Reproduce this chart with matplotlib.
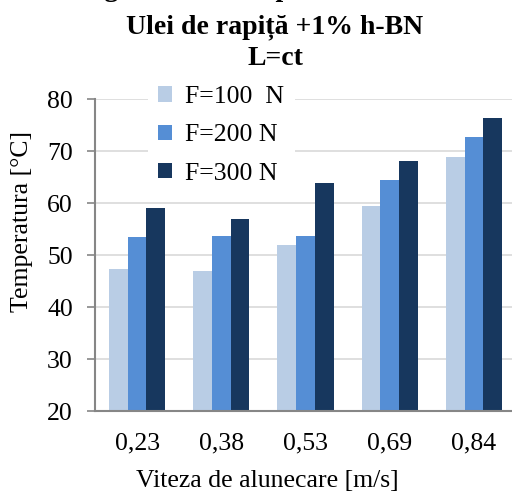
import matplotlib
matplotlib.use("Agg")
import matplotlib.pyplot as plt
import numpy as np

speeds = ["0,23", "0,38", "0,53", "0,69", "0,84"]
series_names = ["F=100  N", "F=200 N", "F=300 N"]
f100 = [47.4, 47.0, 51.9, 59.5, 68.8]
f200 = [53.4, 53.6, 53.6, 64.5, 72.6]
f300 = [59.1, 57.0, 63.8, 68.0, 76.4]
colors = ["#B9CDE5", "#558ED5", "#17375E"]

W, H = 512, 492
plt.rcParams["font.family"] = ["Liberation Serif", "DejaVu Serif"]
FS = 18.5

fig = plt.figure(figsize=(W / 100, H / 100), dpi=100)
# axes box in pixels: left 95, right 516 (cut by the image edge), top 99, bottom 411
ax = fig.add_axes([95 / W, (H - 411) / H, 421 / W, (411 - 99) / H])

x = np.arange(len(speeds))
bw = 0.222
for i, (vals, name) in enumerate(zip([f100, f200, f300], series_names)):
    ax.bar(x + (i - 1) * bw, vals, width=bw, color=colors[i], label=name, zorder=2)

ax.set_xlim(-0.5, len(speeds) - 0.5)
ax.set_ylim(20, 80)
ax.set_yticks(range(20, 81, 10))
ax.set_xticks(x)
ax.set_xticklabels(speeds)
ax.tick_params(axis="x", length=0, pad=15.5, labelsize=FS)
ax.tick_params(axis="y", length=6, width=1.2, color="#868686", pad=10, labelsize=FS)
ax.yaxis.grid(True, color="#D9D9D9", linewidth=1.2, zorder=0)
ax.set_axisbelow(True)
for side in ["top", "right"]:
    ax.spines[side].set_visible(False)
for side in ["left", "bottom"]:
    ax.spines[side].set_color("#868686")
    ax.spines[side].set_linewidth(1.5)

leg = ax.legend(loc="upper left", bbox_to_anchor=(148 / W, (H - 76) / H),
                bbox_transform=fig.transFigure, borderaxespad=0,
                fontsize=FS, frameon=True, fancybox=False,
                handlelength=0.55, handleheight=0.55, handletextpad=0.5,
                labelspacing=0.63, borderpad=0.4)
leg.get_frame().set_facecolor("white")
leg.get_frame().set_edgecolor("none")
leg.get_frame().set_alpha(1)

fig.text(22 / W, 1 - 221 / H, "Temperatura [°C]", rotation=90,
         ha="center", va="center", fontsize=FS)
fig.text(267 / W, 1 - 481 / H, "Viteza de alunecare [m/s]",
         ha="center", va="center", fontsize=FS)

# title: upper line is cut off by the image edge, only descenders remain
fig.text(72 / W, 1 + 4 / H, "Regim termic cu plăci de frecare",
         ha="left", va="baseline", fontsize=20, fontweight="bold")
fig.text(275 / W, 1 - 33 / H, "Ulei de rapiță +1% h-BN",
         ha="center", va="baseline", fontsize=20, fontweight="bold")
fig.text(275 / W, 1 - 65 / H, "L=ct",
         ha="center", va="baseline", fontsize=20, fontweight="bold")

fig.savefig("out.png", dpi=100)
